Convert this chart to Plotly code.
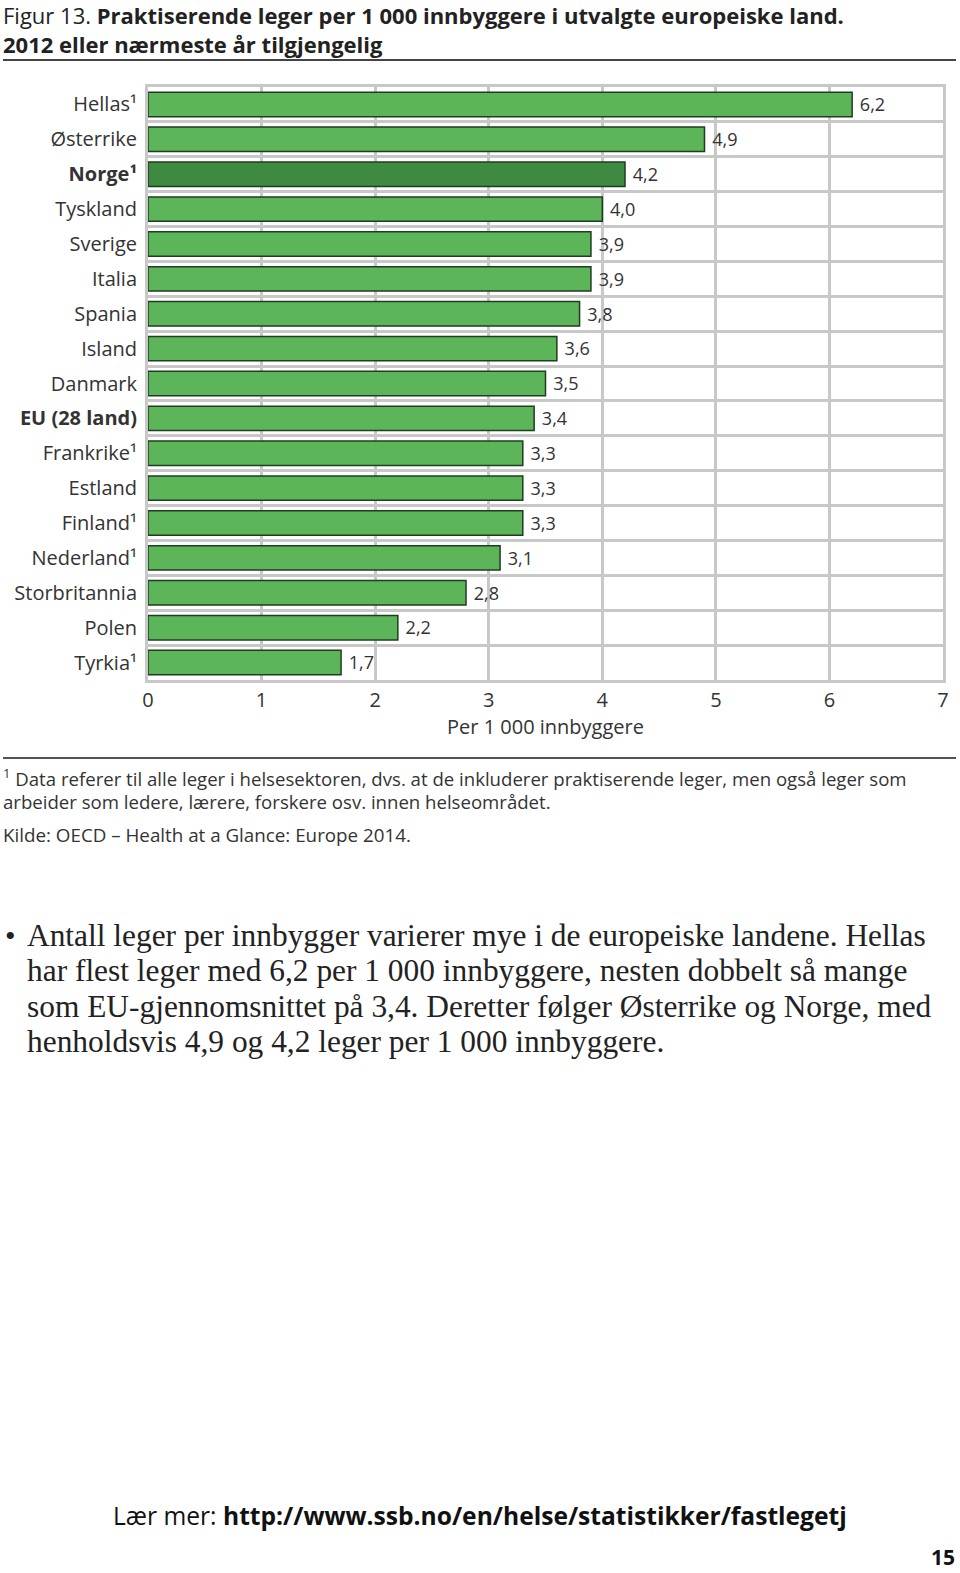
import plotly.graph_objects as go

countries = ["Hellas¹", "Østerrike", "<b>Norge¹</b>", "Tyskland", "Sverige", "Italia",
             "Spania", "Island", "Danmark", "<b>EU (28 land)</b>", "Frankrike¹", "Estland",
             "Finland¹", "Nederland¹", "Storbritannia", "Polen", "Tyrkia¹"]
values = [6.2, 4.9, 4.2, 4.0, 3.9, 3.9, 3.8, 3.6, 3.5, 3.4, 3.3, 3.3, 3.3, 3.1, 2.8, 2.2, 1.7]
highlight = "<b>Norge¹</b>"
x_ticks = [0, 1, 2, 3, 4, 5, 6, 7]

W, H = 960, 1573
L, R, T, B = 148, 17, 87, 893
PLOT_H = H - T - B


def py(p):
    return (H - B - p) / PLOT_H


def px(p):
    return (p - L) / (W - L - R)


colors = ["#3e8a41" if c == highlight else "#5cb558" for c in countries]
labels = ["\u00a0" + f"{v:.1f}".replace(".", ",") for v in values]

fig = go.Figure(go.Bar(
    x=values, y=countries, orientation="h",
    marker=dict(color=colors, line=dict(color="#1f3d20", width=1.5)),
    text=labels, textposition="outside", cliponaxis=False,
    textfont=dict(family="Open Sans", size=20, color="#333333"),
))

font = "Open Sans"
fig.update_layout(
    width=W, height=H, autosize=False,
    margin=dict(l=L, r=R, t=T, b=B),
    paper_bgcolor="white", plot_bgcolor="white",
    bargap=0.3, showlegend=False,
    font=dict(family=font, color="#333333"),
    xaxis=dict(range=[0, 7], tickvals=x_ticks, ticktext=[str(t) for t in x_ticks],
               showgrid=True, gridcolor="#c8c8c8", gridwidth=3,
               showline=True, linecolor="#c8c8c8", linewidth=3, mirror=True,
               zeroline=False, tickfont=dict(size=20, color="#333333"),
               ticks="", ticklabelstandoff=0,
               title=dict(text="Per 1 000 innbyggere", font=dict(size=20, color="#333333"), standoff=2)),
    yaxis=dict(type="category", categoryorder="array", categoryarray=countries,
               autorange="reversed", tickson="boundaries",
               showgrid=True, gridcolor="#c8c8c8", gridwidth=3,
               showline=True, linecolor="#c8c8c8", linewidth=3, mirror=True,
               ticks="", tickfont=dict(size=20, color="#333333"), ticklabelstandoff=4),
)

ann = []
ann.append(dict(text="Figur 13. <b>Praktiserende leger per 1 000 innbyggere i utvalgte europeiske land.</b>",
                x=px(1), y=py(15), xanchor="left", yanchor="middle",
                font=dict(size=22, color="#222222")))
ann.append(dict(text="<b>2012 eller nærmeste år tilgjengelig</b>",
                x=px(1), y=py(44), xanchor="left", yanchor="middle",
                font=dict(size=22, color="#222222")))
ann.append(dict(text="<sup>1</sup> Data referer til alle leger i helsesektoren, dvs. at de inkluderer praktiserende leger, men også leger som",
                x=px(1), y=py(777), xanchor="left", yanchor="middle",
                font=dict(size=18.6, color="#333333")))
ann.append(dict(text="arbeider som ledere, lærere, forskere osv. innen helseområdet.",
                x=px(1), y=py(801), xanchor="left", yanchor="middle",
                font=dict(size=18.6, color="#333333")))
ann.append(dict(text="Kilde: OECD – Health at a Glance: Europe 2014.",
                x=px(1), y=py(835), xanchor="left", yanchor="middle",
                font=dict(size=18.8, color="#333333")))
bullet = ["Antall leger per innbygger varierer mye i de europeiske landene. Hellas",
          "har flest leger med 6,2 per 1 000 innbyggere, nesten dobbelt så mange",
          "som EU-gjennomsnittet på 3,4. Deretter følger Østerrike og Norge, med",
          "henholdsvis 4,9 og 4,2 leger per 1 000 innbyggere."]
ann.append(dict(text="•", x=px(3), y=py(935), xanchor="left", yanchor="middle",
                font=dict(size=30, color="#222222", family="Liberation Serif")))
for i, line in enumerate(bullet):
    ann.append(dict(text=line, x=px(25), y=py(935 + i * 35.5), xanchor="left", yanchor="middle",
                    font=dict(size=31.4, color="#222222", family="Liberation Serif")))
ann.append(dict(text="Lær mer: <b>http://www.ssb.no/en/helse/statistikker/fastlegetj</b>",
                x=px(111), y=py(1515), xanchor="left", yanchor="middle",
                font=dict(size=24.6, color="#111111")))
ann.append(dict(text="<b>15</b>", x=px(957), y=py(1557), xanchor="right", yanchor="middle",
                font=dict(size=21, color="#111111")))
for a in ann:
    a.update(xref="paper", yref="paper", showarrow=False)
fig.update_layout(annotations=ann)

fig.update_layout(shapes=[
    dict(type="line", xref="paper", yref="paper", x0=px(3), x1=px(956), y0=py(60), y1=py(60),
         line=dict(color="#444444", width=2)),
    dict(type="line", xref="paper", yref="paper", x0=px(3), x1=px(956), y0=py(758), y1=py(758),
         line=dict(color="#555555", width=2)),
])

fig.write_html("out.html")
